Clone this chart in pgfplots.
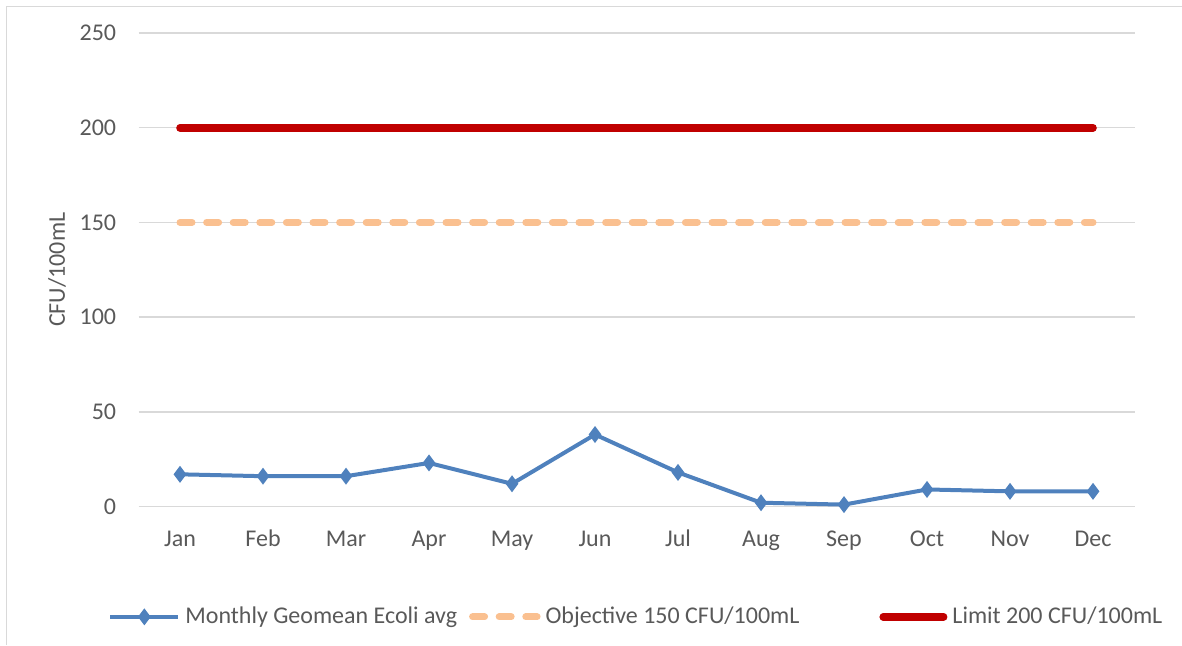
\documentclass[border=0pt]{standalone}
\usepackage{fontspec}
\setmainfont{Carlito}
\usepackage{pgfplots}
\pgfplotsset{compat=1.18}

\definecolor{txtgray}{HTML}{595959}
\definecolor{gridgray}{HTML}{D9D9D9}
\definecolor{ecoli}{HTML}{4F81BD}
\definecolor{objective}{HTML}{FAC090}
\definecolor{limitred}{HTML}{C00000}

\pgfplotsset{
  markleg/.style={legend image code/.code={\draw[mark repeat=2, mark phase=2, ##1] plot coordinates {(0pt,0pt) (17pt,0pt) (34pt,0pt)};}},
  dashleg/.style={legend image code/.code={\draw[##1] (1.75pt,0pt) -- (34pt,0pt);}},
  redleg/.style={legend image code/.code={\draw[##1] (1.9pt,0pt) -- (32.1pt,0pt);}},
}

\begin{document}
\begin{tikzpicture}
  \useasboundingbox (0,0) rectangle (591pt,322.5pt);
  % chart frame (cropped on right and bottom)
  \draw[gridgray, line width=0.75pt] (3.35pt,0pt) -- (3.35pt,319.15pt) -- (591pt,319.15pt);
  \begin{axis}[
    at={(69.25pt,69.25pt)}, anchor=south west,
    scale only axis,
    width=498pt, height=236.75pt,
    xmin=-0.5, xmax=11.5,
    ymin=0, ymax=250,
    xtick={0,...,11},
    xticklabels={Jan,Feb,Mar,Apr,May,Jun,Jul,Aug,Sep,Oct,Nov,Dec},
    ytick={0,50,...,250},
    major tick length=0pt,
    axis line style={draw=none},
    ymajorgrids, grid style={gridgray, line width=0.75pt},
    font=\fontsize{12}{14}\selectfont\color{txtgray},
    /pgf/number format/assume math mode=true,
    xticklabel style={anchor=base, yshift=-19.75pt},
    yticklabel style={anchor=east, inner sep=0pt, xshift=-11pt},
    ylabel={CFU/100mL},
    ylabel style={at={(axis description cs:0,0.5)}, anchor=center, yshift=40.75pt},
    legend columns=3,
    legend style={
      draw=none, fill=none,
      at={(axis description cs:-0.0367,-0.233)}, anchor=west,
      font=\fontsize{12}{14}\selectfont\color{txtgray},
      nodes={inner sep=0pt},
      /tikz/every odd column/.append style={column sep=2.5pt},
      /tikz/every even column/.append style={column sep=6pt},
    },
  ]
    \addplot[ecoli, line width=2pt, mark=diamond*, mark size=2.6pt, mark options={solid}, markleg]
      coordinates {
      (0,17) (1,16) (2,16) (3,23) (4,12) (5,38)
      (6,18) (7,2) (8,1) (9,9) (10,8) (11,8)
    };
    \addlegendentry{Monthly Geomean Ecoli avg}
    \addplot[objective, line width=3.5pt, line cap=round, dash pattern=on 6pt off 7.3pt, dashleg]
      coordinates {(0,150) (11,150)};
    \addlegendentry{Objective 150 CFU/100mL\rule{34pt}{0pt}}
    \addplot[limitred, line width=3.8pt, line cap=round, redleg]
      coordinates {(0,200) (11,200)};
    \addlegendentry{Limit 200 CFU/100mL}
  \end{axis}
\end{tikzpicture}
\end{document}
